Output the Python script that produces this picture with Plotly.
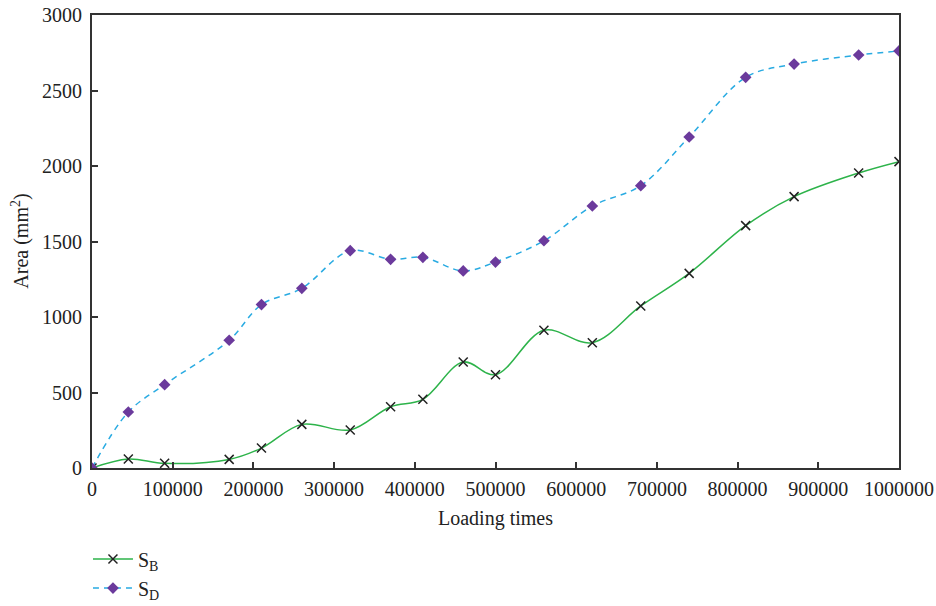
import plotly.graph_objects as go

# Loading cycles at which the crack areas were measured
loading_sb = [0, 45000, 90000, 170000, 210000, 260000, 320000, 370000, 410000,
              460000, 500000, 560000, 620000, 680000, 740000, 810000, 870000,
              950000, 1000000]
area_sb = [0, 60, 31, 57, 132, 289, 252, 406, 455, 702, 618, 912, 830, 1073,
           1289, 1605, 1797, 1954, 2029]

loading_sd = loading_sb
area_sd = [0, 371, 552, 846, 1082, 1190, 1439, 1382, 1395, 1305, 1364, 1505,
           1735, 1870, 2192, 2587, 2675, 2735, 2762]

x_ticks = [0, 100000, 200000, 300000, 400000, 500000, 600000, 700000, 800000,
           900000, 1000000]
y_ticks = [0, 500, 1000, 1500, 2000, 2500, 3000]

FONT = "Liberation Serif"
INK = "#222222"

fig = go.Figure()
fig.add_trace(go.Scatter(
    x=loading_sb, y=area_sb, name="S<sub>B</sub>",
    mode="lines+markers",
    line=dict(color="#2db34a", width=1.5, shape="spline", smoothing=1.0),
    marker=dict(symbol="x-thin", size=9, color=INK,
                line=dict(color=INK, width=1.5)),
))
fig.add_trace(go.Scatter(
    x=loading_sd, y=area_sd, name="S<sub>D</sub>",
    mode="lines+markers",
    line=dict(color="#29abe2", width=1.5, dash="6px,5px", shape="spline",
              smoothing=1.0),
    marker=dict(symbol="diamond", size=9, color="#6b3a9c"),
))

axis_common = dict(
    showgrid=False, zeroline=False, showline=True, linecolor="#333333",
    linewidth=2, mirror=True, ticks="inside", ticklen=6, tickcolor="#333333",
    tickwidth=1.5, tickfont=dict(family=FONT, size=20, color=INK),
    automargin=False,
)

fig.update_xaxes(
    range=[0, 1000000], tickvals=x_ticks, ticktext=[str(v) for v in x_ticks],
    ticklabelstandoff=2, **axis_common,
)
fig.update_yaxes(
    range=[0, 3000], tickvals=y_ticks, ticktext=[str(v) for v in y_ticks],
    ticklabelstandoff=4, **axis_common,
)

# Axis titles
fig.add_annotation(text="Loading times", xref="paper", yref="paper",
                   x=0.5, y=-0.112, xanchor="center", yanchor="middle",
                   showarrow=False, font=dict(family=FONT, size=20, color=INK))
fig.add_annotation(text="Area (mm<sup>2</sup>)", xref="paper", yref="paper",
                   x=-0.089, y=0.5, xanchor="center", yanchor="middle",
                   textangle=-90, showarrow=False,
                   font=dict(family=FONT, size=20, color=INK))

fig.update_layout(
    width=936, height=606,
    margin=dict(l=92, r=37, t=15, b=138, autoexpand=False),
    paper_bgcolor="white", plot_bgcolor="white",
    font=dict(family=FONT, size=20, color=INK),
    showlegend=True,
    legend=dict(x=-0.005, y=-0.158, xanchor="left", yanchor="top",
                font=dict(family=FONT, size=20, color=INK),
                bgcolor="rgba(0,0,0,0)", tracegroupgap=0, itemwidth=40),
)

fig.write_html("out.html")
